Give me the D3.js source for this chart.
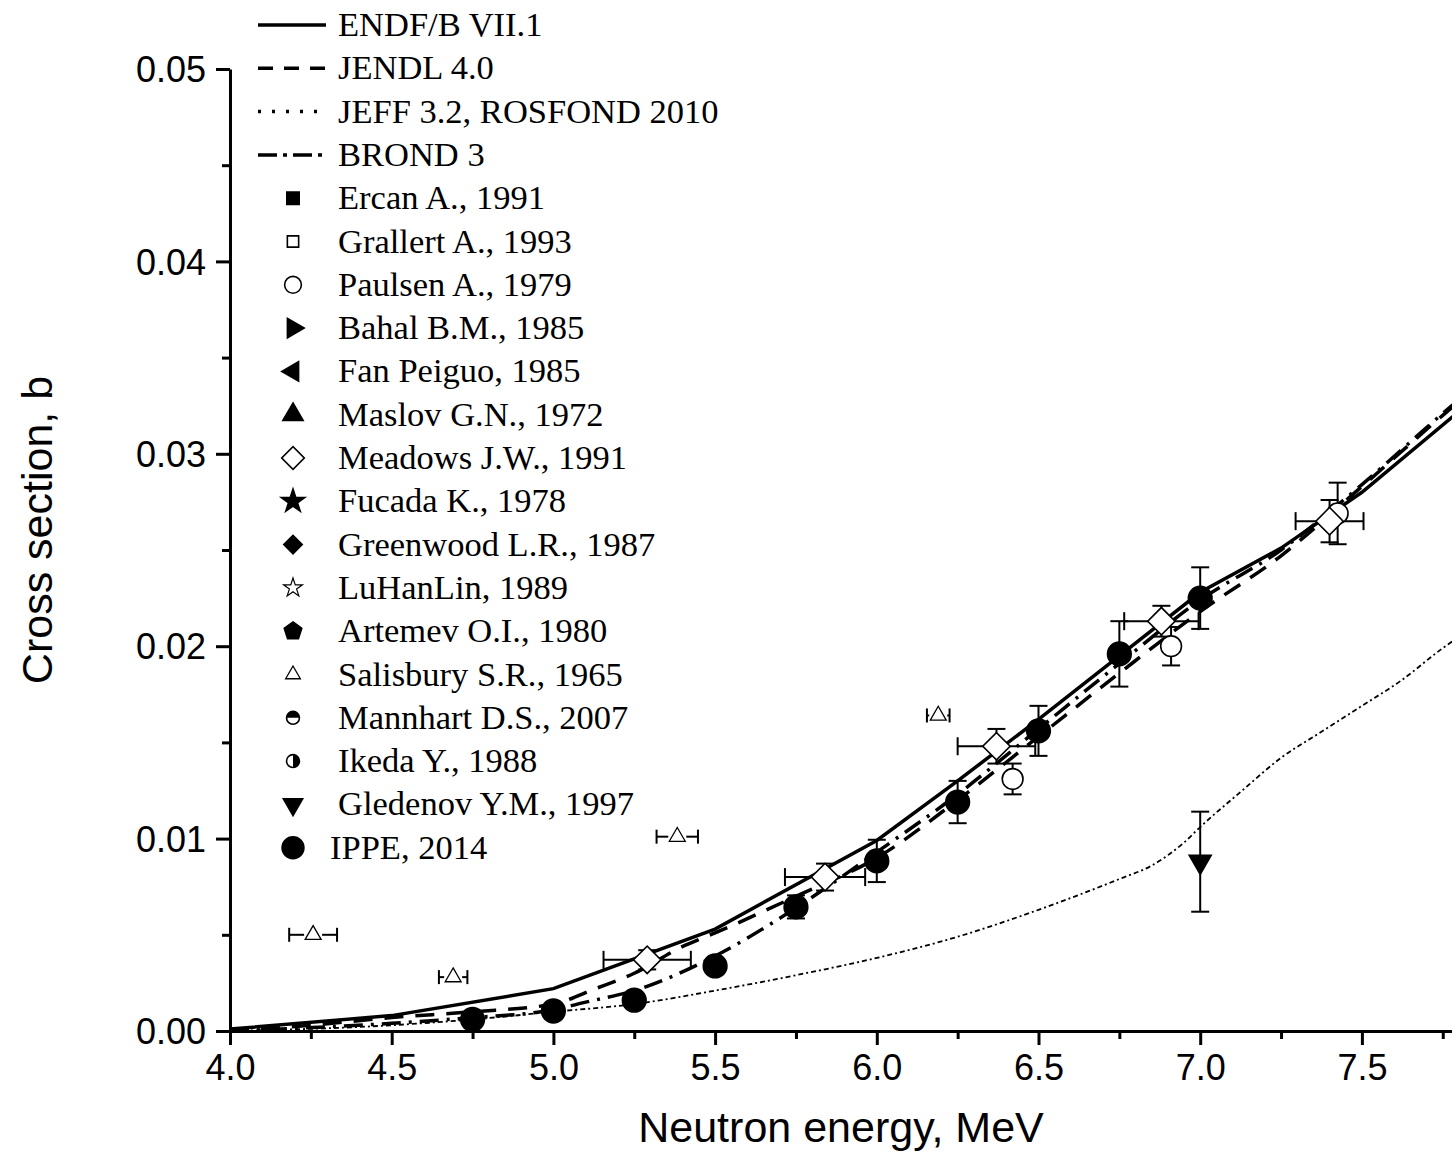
<!DOCTYPE html>
<html>
<head>
<meta charset="utf-8">
<script src="https://cdn.jsdelivr.net/npm/d3@7"></script>
<style>
  html, body { margin: 0; padding: 0; background: #fff; overflow: hidden; }
  svg { display: block; }
</style>
</head>
<body>
<svg id="chart" width="1452" height="1173"></svg>
<script>
// evaluated curves (energy in MeV, cross section in b)
var endfE  = [4.0, 4.5, 5.0, 5.5, 6.0, 6.25, 6.5, 6.75, 7.0, 7.25, 7.5, 8.0];
var endfXs = [0.0001, 0.0008, 0.0022, 0.0053, 0.0099, 0.0130, 0.0162, 0.0195, 0.0228, 0.0251, 0.0280, 0.0350];

var jendlE  = [4.0, 4.25, 4.5, 4.75, 5.0, 5.13, 5.25, 5.4, 5.5, 5.75, 6.0, 6.25, 6.5, 6.75, 7.0, 7.25, 7.5, 7.75, 8.0];
var jendlXs = [0.0000, 0.0003, 0.0007, 0.0010, 0.0014, 0.0022, 0.0030, 0.0044, 0.0051, 0.0070, 0.0090, 0.0120, 0.0153, 0.0186, 0.0218, 0.0247, 0.0283, 0.0320, 0.0355];

var brondE  = [4.0, 4.5, 4.75, 5.0, 5.1, 5.25, 5.5, 5.75, 6.0, 6.25, 6.5, 6.75, 7.0, 7.25, 7.5, 7.75, 8.0];
var brondXs = [0.0000, 0.0004, 0.0007, 0.0011, 0.0015, 0.0021, 0.0039, 0.0064, 0.0093, 0.0123, 0.0157, 0.0191, 0.0224, 0.0250, 0.0284, 0.0321, 0.0356];

var jeffE  = [4.0, 4.5, 4.75, 5.0, 5.25, 5.5, 5.75, 6.0, 6.25, 6.5, 6.75, 6.85, 6.95, 7.0, 7.13, 7.25, 7.37, 7.5, 7.62, 7.75, 8.0];
var jeffXs = [0.0000, 0.0003, 0.0006, 0.0010, 0.0014, 0.0021, 0.0029, 0.0038, 0.0049, 0.0063, 0.0079, 0.0086, 0.0098, 0.0106, 0.0125, 0.0142, 0.0155, 0.0169, 0.0182, 0.0199, 0.0225];

// measurements
var ippeE   = [4.75, 5.0, 5.25, 5.5, 5.75, 6.0, 6.25, 6.5, 6.75, 7.0];
var ippeXs  = [0.0006, 0.00104, 0.0016, 0.00338, 0.00645, 0.00884, 0.0119, 0.0156, 0.0196, 0.0225];
var ippeErr = [0.0001, 0.0001, 0.0002, 0.0003, 0.0006, 0.0011, 0.0011, 0.0013, 0.0017, 0.0016];

var meadE   = [5.29, 5.84, 6.37, 6.88, 7.40];
var meadXs  = [0.0037, 0.0080, 0.0148, 0.0213, 0.0265];
var meadDE  = [0.135, 0.124, 0.12, 0.115, 0.105];
var meadErr = [0.0005, 0.0007, 0.0009, 0.0008, 0.0011];

var paulE   = [6.42, 6.91, 7.425];
var paulXs  = [0.0131, 0.0200, 0.0269];
var paulErr = [0.0008, 0.0010, 0.0016];

var salE  = [4.257, 4.69, 5.383, 6.19];
var salXs = [0.0050, 0.0028, 0.0101, 0.0164];
var salDE = [0.074, 0.044, 0.064, 0.035];

var gledE = [7.0], gledXs = [0.0088], gledLo = [0.0062], gledHi = [0.0114];

var xMajor = [4.0, 4.5, 5.0, 5.5, 6.0, 6.5, 7.0, 7.5];
var xMinor = [4.25, 4.75, 5.25, 5.75, 6.25, 6.75, 7.25, 7.75];
var yMajor = [0, 0.01, 0.02, 0.03, 0.04, 0.05];
var yMinor = [0.005, 0.015, 0.025, 0.035, 0.045];

var lineLegend = ["ENDF/B VII.1", "JENDL 4.0", "JEFF 3.2, ROSFOND 2010", "BROND 3"];
var symLegend = [
  ["Ercan A., 1991", "sqFill"], ["Grallert A., 1993", "sqOpen"], ["Paulsen A., 1979", "circOpen"],
  ["Bahal B.M., 1985", "triRight"], ["Fan Peiguo, 1985", "triLeft"], ["Maslov G.N., 1972", "triUp"],
  ["Meadows J.W., 1991", "diaOpen"], ["Fucada K., 1978", "starFill"], ["Greenwood L.R., 1987", "diaFill"],
  ["LuHanLin, 1989", "starOpen"], ["Artemev O.I., 1980", "pentFill"], ["Salisbury S.R., 1965", "triOpenSmall"],
  ["Mannhart D.S., 2007", "halfTop"], ["Ikeda Y., 1988", "halfRight"], ["Gledenov Y.M., 1997", "triDown"],
  ["IPPE, 2014", "circFill"]
];

var svg = d3.select("#chart");
var x = d3.scaleLinear().domain([4, 8]).range([230, 1523.6]);
var y = d3.scaleLinear().domain([0, 0.05]).range([1031, 69]);

// axes
var xAxis = svg.append("g").attr("transform", "translate(0," + y(0) + ")")
  .call(d3.axisBottom(x).tickValues(xMajor).tickSize(14).tickSizeOuter(0).tickFormat(d3.format(".1f")));
svg.append("g").attr("transform", "translate(0," + y(0) + ")")
  .call(d3.axisBottom(x).tickValues(xMinor).tickSize(8).tickSizeOuter(0).tickFormat(""))
  .select(".domain").remove();
var yAxis = svg.append("g").attr("transform", "translate(" + x(4) + ",0)")
  .call(d3.axisLeft(y).tickValues(yMajor).tickSize(14).tickSizeOuter(0).tickFormat(d3.format(".2f")));
svg.append("g").attr("transform", "translate(" + x(4) + ",0)")
  .call(d3.axisLeft(y).tickValues(yMinor).tickSize(8).tickSizeOuter(0).tickFormat(""))
  .select(".domain").remove();

svg.selectAll(".domain, .tick line").attr("stroke", "#000").attr("stroke-width", 3);
svg.selectAll(".tick text").attr("font-family", "Liberation Sans, Arial, sans-serif")
  .attr("font-size", 36).attr("fill", "#000");
xAxis.selectAll(".tick text").attr("y", 18).attr("dy", "0.85em");
yAxis.selectAll(".tick text").attr("x", -24).attr("dy", "0.35em");

svg.append("text").attr("x", 841).attr("y", 1142).attr("text-anchor", "middle")
  .attr("font-family", "Liberation Sans, Arial, sans-serif").attr("font-size", 43)
  .text("Neutron energy, MeV");
svg.append("text").attr("transform", "translate(52,530) rotate(-90)").attr("text-anchor", "middle")
  .attr("font-family", "Liberation Sans, Arial, sans-serif").attr("font-size", 43)
  .text("Cross section, b");

// curves
var line = d3.line().x(function(d) { return x(d[0]); }).y(function(d) { return y(d[1]); });
var curveStyles = [
  {e: endfE, v: endfXs, dash: null, w: 3.5, c: d3.curveLinear},
  {e: jendlE, v: jendlXs, dash: "19,12", w: 3.5, c: d3.curveMonotoneX},
  {e: jeffE, v: jeffXs, dash: "5,3,2,3", w: 1.8, c: d3.curveMonotoneX},
  {e: brondE, v: brondXs, dash: "19,8,3,8", w: 3.5, c: d3.curveMonotoneX}
];
curveStyles.forEach(function(s) {
  svg.append("path").datum(d3.zip(s.e, s.v))
    .attr("d", line.curve(s.c))
    .attr("fill", "none").attr("stroke", "#000").attr("stroke-width", s.w)
    .attr("stroke-dasharray", s.dash);
});

// error bars
var eb = svg.append("g").attr("stroke", "#000").attr("stroke-width", 2).attr("fill", "none");
function vBar(e, lo, hi) {
  var px = x(e), cw = 9;
  eb.append("line").attr("x1", px).attr("x2", px).attr("y1", y(lo)).attr("y2", y(hi));
  eb.append("line").attr("x1", px - cw).attr("x2", px + cw).attr("y1", y(lo)).attr("y2", y(lo));
  eb.append("line").attr("x1", px - cw).attr("x2", px + cw).attr("y1", y(hi)).attr("y2", y(hi));
}
function hBar(lo, hi, v) {
  var py = y(v), cw = 9;
  eb.append("line").attr("x1", x(lo)).attr("x2", x(hi)).attr("y1", py).attr("y2", py);
  eb.append("line").attr("x1", x(lo)).attr("x2", x(lo)).attr("y1", py - cw).attr("y2", py + cw);
  eb.append("line").attr("x1", x(hi)).attr("x2", x(hi)).attr("y1", py - cw).attr("y2", py + cw);
}
ippeE.forEach(function(e, i) { vBar(e, ippeXs[i] - ippeErr[i], ippeXs[i] + ippeErr[i]); });
meadE.forEach(function(e, i) {
  vBar(e, meadXs[i] - meadErr[i], meadXs[i] + meadErr[i]);
  hBar(e - meadDE[i], e + meadDE[i], meadXs[i]);
});
paulE.forEach(function(e, i) { vBar(e, paulXs[i] - paulErr[i], paulXs[i] + paulErr[i]); });
salE.forEach(function(e, i) {
  var py = y(salXs[i]), cw = 7;
  eb.append("line").attr("x1", x(e - salDE[i])).attr("x2", x(e) - 9).attr("y1", py).attr("y2", py);
  eb.append("line").attr("x1", x(e) + 9).attr("x2", x(e + salDE[i])).attr("y1", py).attr("y2", py);
  eb.append("line").attr("x1", x(e - salDE[i])).attr("x2", x(e - salDE[i])).attr("y1", py - cw).attr("y2", py + cw);
  eb.append("line").attr("x1", x(e + salDE[i])).attr("x2", x(e + salDE[i])).attr("y1", py - cw).attr("y2", py + cw);
});
gledE.forEach(function(e, i) { vBar(e, gledLo[i], gledHi[i]); });

// markers
function pentagon(r) {
  var p = [];
  for (var k = 0; k < 5; k++) {
    var a = -Math.PI / 2 + k * 2 * Math.PI / 5;
    p.push([r * Math.cos(a), r * Math.sin(a)]);
  }
  return "M" + p.map(function(q) { return q.join(","); }).join("L") + "Z";
}
function marker(g, kind, cx, cy, scale) {
  var s = scale || 1;
  var m = g.append("g").attr("transform", "translate(" + cx + "," + cy + ")");
  var fill = "#000", d = null, rot = 0, sw = 1.6;
  switch (kind) {
    case "sqFill": d = d3.symbol().type(d3.symbolSquare).size(180 * s)(); break;
    case "sqOpen": d = d3.symbol().type(d3.symbolSquare).size(150 * s)(); fill = "#fff"; break;
    case "circOpen": d = d3.symbol().type(d3.symbolCircle).size(260 * s)(); fill = "#fff"; break;
    case "circFill": d = d3.symbol().type(d3.symbolCircle).size(440 * s)(); break;
    case "triRight": d = d3.symbol().type(d3.symbolTriangle).size(190 * s)(); rot = 90; break;
    case "triLeft": d = d3.symbol().type(d3.symbolTriangle).size(190 * s)(); rot = -90; break;
    case "triUp": d = d3.symbol().type(d3.symbolTriangle).size(210 * s)(); break;
    case "triDown": d = d3.symbol().type(d3.symbolTriangle).size(190 * s)(); rot = 180; break;
    case "triOpenSmall": d = d3.symbol().type(d3.symbolTriangle).size(110 * s)(); fill = "#fff"; sw = 1.3; break;
    case "diaOpen": d = d3.symbol().type(d3.symbolSquare).size(300 * s)(); rot = 45; fill = "#fff"; break;
    case "diaFill": d = d3.symbol().type(d3.symbolSquare).size(200 * s)(); rot = 45; break;
    case "starFill": d = d3.symbol().type(d3.symbolStar).size(200 * s)(); break;
    case "starOpen": d = d3.symbol().type(d3.symbolStar).size(130 * s)(); fill = "#fff"; sw = 1.2; break;
    case "pentFill": d = pentagon(10 * Math.sqrt(s)); break;
  }
  if (kind === "halfTop" || kind === "halfRight") {
    var r = 7 * Math.sqrt(s);
    m.append("circle").attr("r", r).attr("fill", "#fff").attr("stroke", "#000").attr("stroke-width", 1.6);
    var half = kind === "halfTop"
      ? "M" + (-r) + ",0A" + r + "," + r + " 0 0,1 " + r + ",0Z"
      : "M0," + (-r) + "A" + r + "," + r + " 0 0,1 0," + r + "Z";
    m.append("path").attr("d", half).attr("fill", "#000");
    return;
  }
  m.append("path").attr("d", d).attr("transform", "rotate(" + rot + ")")
    .attr("fill", fill).attr("stroke", "#000").attr("stroke-width", sw);
}

var mk = svg.append("g");
salE.forEach(function(e, i) { marker(mk, "triOpenSmall", x(e), y(salXs[i])); });
paulE.forEach(function(e, i) { marker(mk, "circOpen", x(e), y(paulXs[i]), 1.3); });
meadE.forEach(function(e, i) { marker(mk, "diaOpen", x(e), y(meadXs[i]), 1.25); });
ippeE.forEach(function(e, i) { marker(mk, "circFill", x(e), y(ippeXs[i]), 1.0); });
gledE.forEach(function(e, i) { marker(mk, "triDown", x(e), y(gledXs[i]), 1.1); });

// legend
var lg = svg.append("g").attr("font-family", "Liberation Serif, Times New Roman, serif").attr("font-size", 34.5);
var rowH = 43.3, legendTop = 25;
var legendDash = [null, "15,11", "3,11", "19,6,4,6"];
lineLegend.forEach(function(t, i) {
  var ry = legendTop + i * rowH;
  lg.append("line").attr("x1", 258).attr("x2", 326).attr("y1", ry).attr("y2", ry)
    .attr("stroke", "#000").attr("stroke-width", 3.5).attr("stroke-dasharray", legendDash[i]);
  lg.append("text").attr("x", 338).attr("y", ry + 11).text(t);
});
symLegend.forEach(function(r, i) {
  var ry = legendTop + (i + 4) * rowH;
  marker(lg, r[1], 293, ry, 0.85);
  lg.append("text").attr("x", r[1] === "circFill" ? 330 : 338).attr("y", ry + 11).text(r[0]);
});
</script>
</body>
</html>
